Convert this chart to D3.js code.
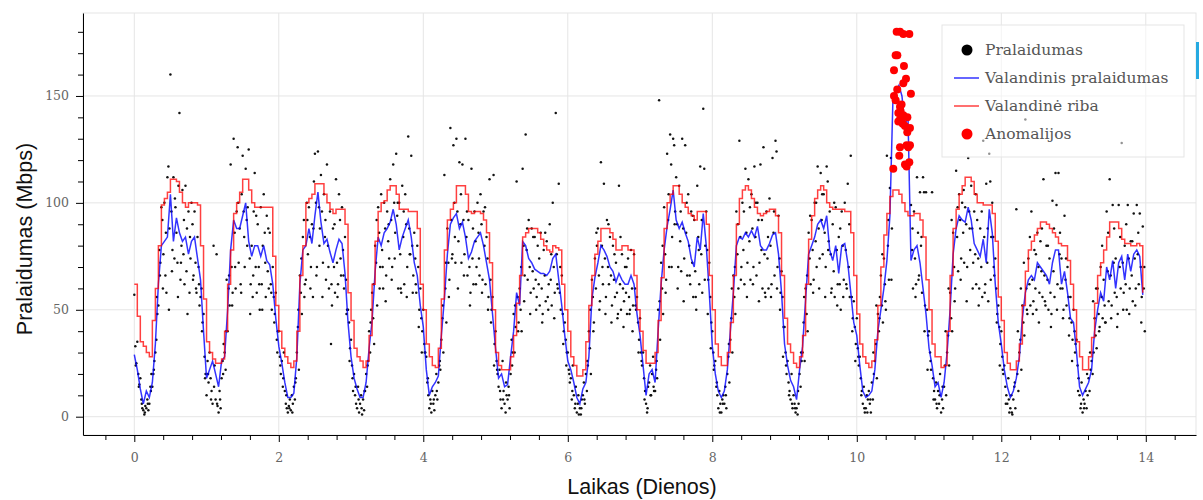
<!DOCTYPE html>
<html>
<head>
<meta charset="utf-8">
<script src="https://cdn.jsdelivr.net/npm/d3@7"></script>
<style>
  body { margin: 0; background: #fff; }
  svg { display: block; }
</style>
</head>
<body>
<div id="container"></div>
<script>
/* CONSTANTS AND GLOBALS */
const width = 1203;
const height = 500;
const plot = { left: 83, right: 1196, top: 13, bottom: 435 };

/* DATA */
// hourly mean throughput, one row per day (24 hours)
const hourlyThroughput = [
  [29,22,13,6,12,9,16,34,62,80,82,84,104,82,93,86,82,84,76,82,84,74,64,40],
  [18,22,26,20,14,26,28,50,78,92,88,88,94,100,82,75,80,80,75,80,73,71,62,46],
  [33,25,16,9,9,11,28,62,78,80,88,81,94,105,91,81,83,77,72,78,83,81,67,44],
  [28,18,13,9,9,16,32,45,68,84,80,86,88,91,97,90,78,84,88,92,84,72,66,52],
  [42,22,10,14,16,19,38,55,76,90,93,95,88,91,84,74,77,82,84,86,80,72,64,48],
  [32,18,20,14,15,28,40,58,52,82,80,74,72,69,68,67,67,66,68,74,76,64,52,38],
  [26,22,16,9,6,13,16,28,55,65,72,80,78,75,70,68,63,67,64,62,62,66,62,48],
  [38,24,10,20,22,16,40,62,78,89,97,106,92,88,91,86,82,74,70,84,78,95,80,58],
  [33,20,12,9,12,22,40,58,80,84,83,86,84,87,84,89,80,78,78,81,85,86,76,58],
  [34,24,17,14,8,22,33,55,76,80,84,90,92,88,94,78,73,80,67,80,81,72,58,44],
  [38,24,12,9,10,12,22,40,50,60,73,94,148,152,155,150,136,141,73,78,80,72,60,48],
  [32,24,14,16,9,16,30,50,76,88,94,92,91,98,92,81,78,75,83,72,97,86,62,44],
  [34,22,14,9,12,18,28,46,58,64,66,64,72,70,68,66,62,72,78,78,62,68,58,46],
  [44,30,14,10,13,16,22,40,50,58,54,70,64,73,60,72,75,64,76,68,76,78,75,57]
];

// hourly limit (step line), one row per day
const hourlyLimit = [
  [62,47,35,33,30,28,45,60,80,99,102,105,111,111,110,105,100,98,100,100,100,99,80,55],
  [35,30,27,25,25,27,40,62,78,95,100,105,111,111,106,100,98,98,98,98,98,98,75,52],
  [40,32,28,25,23,26,40,66,80,100,102,104,109,109,109,104,100,97,95,97,97,97,90,58],
  [45,32,28,26,23,26,38,62,82,96,100,101,106,108,108,104,97,97,97,96,96,96,88,62],
  [50,34,28,24,23,32,55,78,92,97,100,108,108,108,104,96,95,96,96,95,92,86,72,50],
  [30,24,22,22,22,28,38,53,66,84,86,88,88,88,86,83,80,78,77,80,79,78,62,50],
  [40,28,24,19,19,22,35,52,66,76,82,88,88,88,86,83,78,78,80,80,78,78,66,50],
  [40,31,25,25,25,30,45,65,88,100,104,108,108,104,100,98,95,94,92,96,96,96,90,66],
  [50,34,28,24,24,30,44,66,90,102,106,108,106,102,98,95,94,95,96,97,97,94,86,66],
  [46,34,30,25,23,28,38,62,83,94,102,106,108,106,100,98,97,97,97,97,96,96,86,66],
  [48,34,28,25,23,26,36,52,70,85,95,103,106,106,104,100,96,94,94,95,95,92,84,64],
  [50,34,28,28,23,24,40,66,88,97,104,108,112,112,110,104,100,100,99,99,99,95,82,56],
  [45,30,25,22,22,26,34,52,68,78,82,85,88,91,91,90,88,86,84,81,80,80,73,62],
  [50,35,28,22,22,28,37,53,66,72,78,84,91,91,91,88,83,81,81,80,80,81,80,58]
];

// raw throughput samples, 20 minutes apart (72 per day); null where the anomaly replaces them
const throughput = [
  [57,33,25, 35,20,15, 18,8,4, 3,1,5, 4,8,3, 6,14,20, 14,20,26, 30,36,48, 52,78,72, 98,92,76, 100,66,58, 112,117,88, 160,96,78, 112,74,98, 86,72,108, 142,64,80, 106,76,62, 108,68,48, 96,58,74, 100,90,66, 96,72,58, 84,70,52, 56,60,44, 48,28,20],
  [10,26,16, 30,18,12, 6,80,24, 8,76,5, 2,12,4, 18,26,34, 30,22,64, 40,60,52, 118,70,58, 130,86,60, 96,126,72, 88,62,104, 122,96,70, 116,92,98, 125,74,62, 80,56,96, 114,70,58, 90,70,50, 98,62,80, 104,86,56, 94,68,60, 86,62,50, 70,56,48, 58,36,40],
  [40,28,20, 26,14,30, 12,6,4, 2,5,8, 3,10,6, 14,8,18, 30,42,22, 66,58,48, 84,92,62, 64,100,76, 98,84,70, 90,56,110, 123,100,70, 124,98,88, 113,96,72, 104,84,64, 118,80,60, 96,34,52, 88,70,58, 111,72,62, 104,92,66, 98,78,60, 84,64,50, 50,44,32],
  [36,24,12, 20,10,6, 4,14,2, 6,10,1, 8,3,12, 20,14,26, 40,30,50, 58,46,34, 80,72,52, 98,86,70, 104,78,60, 100,88,66, 96,82,74, 111,92,70, 118,100,86, 123,94,60, 100,76,58, 108,84,62, 104,90,70, 131,88,76, 122,80,66, 86,74,58, 80,70,50, 60,46,40],
  [50,34,30, 28,16,10, 4,8,2, 12,6,3, 10,20,8, 16,24,22, 36,46,30, 113,60,44, 88,72,64, 135,92,76, 127,100,72, 130,96,82, 119,90,72, 118,92,76, 130,84,66, 92,70,58, 116,74,62, 96,82,70, 100,86,66, 104,90,64, 96,80,62, 84,74,56, 111,64,50, 56,113,34],
  [40,26,20, 14,22,8, 4,26,12, 6,2,10, 8,14,4, 20,36,30, 48,30,42, 110,56,44, 60,50,40, 116,80,66, 132,78,64, 92,70,58, 88,68,60, 84,64,56, 80,62,52, 86,60,48, 78,66,54, 82,56,62, 90,64,52, 100,70,58, 142,76,60, 109,58,50, 66,48,40, 44,36,30],
  [30,22,16, 18,8,24, 10,4,14, 2,6,1, 4,1,8, 10,16,6, 20,12,24, 40,32,20, 64,56,44, 74,60,80, 88,66,54, 119,80,62, 109,74,56, 92,70,62, 84,66,52, 80,64,56, 72,58,48, 108,62,50, 76,60,54, 70,58,48, 74,56,50, 78,60,52, 76,60,50, 56,44,36],
  [46,30,24, 30,18,12, 6,2,14, 16,24,10, 20,28,12, 12,22,18, 50,148,36, 72,60,48, 98,76,64, 123,92,70, 132,118,84, 130,127,96, 112,90,70, 108,82,68, 130,88,74, 127,86,66, 104,80,62, 96,72,56, 92,68,50, 108,84,62, 117,76,58, 144,116,80, 96,78,64, 72,56,44],
  [40,30,24, 26,14,10, 4,12,6, 2,8,10, 6,14,4, 20,28,16, 36,46,30, 66,56,48, 96,76,60, 129,84,70, 100,78,62, 116,86,72, 111,82,64, 104,88,70, 117,84,66, 100,92,72, 118,78,60, 126,76,56, 96,74,60, 102,80,62, 121,86,66, 129,124,70, 94,74,58, 68,56,42],
  [42,30,20, 26,16,12, 8,20,4, 10,6,2, 4,1,6, 20,14,26, 30,44,26, 60,48,40, 86,74,62, 92,78,64, 100,82,70, 117,88,74, 114,92,76, 104,86,70, 117,110,82, 96,76,60, 90,68,56, 98,78,62, 84,62,50, 96,80,64, 100,78,60, 109,70,56, 122,56,46, 54,42,34],
  [46,32,24, 28,18,12, 6,14,2, 4,10,8, 12,6,2, 16,8,20, 26,34,18, 48,40,56, 66,52,44, 74,62,50, 122,80,64, 107,121,88, null,null,null, null,null,null, null,null,null, null,null,null, null,null,null, null,null,null, 99,78,60, 96,74,62, 112,86,66, 105,80,58, 112,105,52, 105,50,38],
  [40,30,22, 105,18,12, 8,16,4, 12,6,20, 2,8,4, 14,24,10, 30,38,24, 58,46,40, 86,70,60, 115,84,68, 104,92,74, 100,86,72, 98,90,70, 121,96,78, 108,88,72, 96,76,62, 92,74,60, 88,70,56, 129,84,62, 109,72,54, 123,110,84, 100,84,66, 74,60,48, 52,42,34],
  [40,28,20, 24,14,10, 6,18,2, 4,10,1, 8,14,4, 97,20,12, 30,36,22, 52,44,38, 139,60,48, 74,62,52, 96,64,54, 78,60,50, 86,70,58, 82,68,56, 111,66,52, 80,64,50, 74,58,48, 101,68,56, 114,99,62, 114,76,60, 74,60,50, 94,64,52, 70,56,46, 56,44,36],
  [50,40,34, 36,24,18, 10,4,16, 2,8,6, 12,4,10, 18,12,22, 26,20,30, 46,38,32, 60,48,42, 70,56,46, 64,52,44, 96,68,54, 111,66,52, 99,72,58, 74,56,48, 99,70,60, 128,72,58, 80,62,50, 99,74,60, 82,66,54, 95,74,60, 99,76,62, 95,70,56, 89,60,40]
];

// extra samples taken at half past each hour (24 per day)
const throughputHalfHour = [
  [24,14,6,2,6,12,22,56,66,60,86,50,68,102,56,72,92,88,84,64,60,62,40,18],
  [20,8,14,6,8,20,40,66,52,70,100,58,84,80,48,66,94,62,50,72,88,58,44,30],
  [24,18,10,4,2,16,50,74,56,92,60,88,66,80,56,92,70,62,90,56,74,66,48,26],
  [18,14,8,4,12,24,44,62,92,60,70,54,90,64,74,100,60,96,56,76,58,62,42,30],
  [30,18,6,8,12,26,52,72,56,74,84,60,104,66,96,52,88,62,74,58,98,50,44,24],
  [22,12,8,16,10,24,52,40,70,54,88,48,84,50,74,44,86,50,76,46,62,70,34,24],
  [20,12,6,10,4,8,26,50,40,86,50,70,48,90,44,76,46,84,42,70,48,40,52,30],
  [26,8,4,10,14,26,54,80,58,104,70,90,60,96,54,100,66,94,56,78,92,64,48,32],
  [22,16,2,6,10,34,60,70,90,64,96,56,98,62,100,54,92,58,84,56,96,60,50,28],
  [24,10,6,4,12,30,56,66,94,58,100,60,104,56,78,58,100,52,88,56,62,90,40,26],
  [28,10,4,2,8,30,52,46,76,54,92,64,null,null,null,null,null,null,88,56,64,84,40,22],
  [26,8,6,10,14,40,60,92,54,98,64,106,54,88,60,104,52,96,58,88,64,70,44,24],
  [22,6,8,2,16,40,60,72,50,84,48,76,44,88,54,80,42,88,50,86,46,74,38,26],
  [30,12,6,4,20,30,54,60,40,80,44,86,46,88,42,84,50,90,48,82,52,86,44,70]
];

// anomalies (day, Mbps)
const anomalyDay = [10.552,10.598,10.644,10.727,10.538,10.561,10.515,10.653,10.644,10.681,10.515,10.538,10.749,10.598,10.605,10.575,10.644,10.598,10.636,10.575,10.667,10.736,10.699,10.690,10.598,10.713,10.736,10.588,10.727,10.667,10.690,10.505,10.620,10.560,10.700];
const anomalyValue = [180,180,179,179,169,169,162,164,156,158,150,148,151,145,143,142,141,139,137,138,136,135,133,127,126,126,127,122,119,118,117,116,146,153,140];

const xTicks = [0,2,4,6,8,10,12,14];
const yTicks = [0,50,100,150];
const legendLabels = ["Pralaidumas", "Valandinis pralaidumas", "Valandinė riba", "Anomalijos"];

/* SCALES */
const xScale = d3.scaleLinear()
  .domain([-0.71, 14.695])
  .range([plot.left, plot.right]);

const yScale = d3.scaleLinear()
  .domain([-8.56, 188.8])
  .range([plot.bottom, plot.top]);

const hourlyPoints = rows => rows.flatMap((day, d) => day.map((v, h) => ({ x: d + h / 24, v })));
const bluePoints = hourlyPoints(hourlyThroughput);
const redPoints = hourlyPoints(hourlyLimit);
const dotPoints = throughput
  .flatMap((day, d) => day.map((v, i) => ({ x: d + i / 72, v })))
  .concat(throughputHalfHour.flatMap((day, d) => day.map((v, h) => ({ x: d + (h + 0.5) / 24, v }))))
  .filter(p => p.v !== null);
const anomalies = anomalyDay.map((x, i) => ({ x, v: anomalyValue[i] }));

/* SVG */
const svg = d3.select("#container")
  .append("svg")
  .attr("width", width)
  .attr("height", height);

svg.append("defs").append("clipPath")
  .attr("id", "plot-clip")
  .append("rect")
  .attr("x", plot.left)
  .attr("y", plot.top)
  .attr("width", plot.right - plot.left)
  .attr("height", plot.bottom - plot.top);

// grid
svg.append("g")
  .selectAll("line.vgrid")
  .data(xTicks)
  .join("line")
  .attr("x1", d => xScale(d)).attr("x2", d => xScale(d))
  .attr("y1", plot.top).attr("y2", plot.bottom)
  .attr("stroke", "#e5e5e5");

svg.append("g")
  .selectAll("line.hgrid")
  .data(yTicks)
  .join("line")
  .attr("x1", plot.left).attr("x2", plot.right)
  .attr("y1", d => yScale(d)).attr("y2", d => yScale(d))
  .attr("stroke", "#e5e5e5");

// outline
svg.append("rect")
  .attr("x", plot.left).attr("y", plot.top)
  .attr("width", plot.right - plot.left)
  .attr("height", plot.bottom - plot.top)
  .attr("fill", "none")
  .attr("stroke", "#e5e5e5");

const marks = svg.append("g").attr("clip-path", "url(#plot-clip)");

// raw samples
marks.selectAll("circle.dot")
  .data(dotPoints)
  .join("circle")
  .attr("class", "dot")
  .attr("cx", d => xScale(d.x))
  .attr("cy", d => yScale(d.v))
  .attr("r", 1.25)
  .attr("fill", "#111");

// hourly throughput
marks.append("path")
  .datum(bluePoints)
  .attr("fill", "none")
  .attr("stroke", "blue")
  .attr("stroke-opacity", 0.8)
  .attr("stroke-width", 1.5)
  .attr("d", d3.line().x(d => xScale(d.x)).y(d => yScale(d.v)));

// hourly limit
marks.append("path")
  .datum(redPoints)
  .attr("fill", "none")
  .attr("stroke", "red")
  .attr("stroke-opacity", 0.75)
  .attr("stroke-width", 1.5)
  .attr("d", d3.line().curve(d3.curveStepAfter).x(d => xScale(d.x)).y(d => yScale(d.v)));

// anomalies
marks.selectAll("circle.anomaly")
  .data(anomalies)
  .join("circle")
  .attr("class", "anomaly")
  .attr("cx", d => xScale(d.x))
  .attr("cy", d => yScale(d.v))
  .attr("r", 4)
  .attr("fill", "red");

/* AXES */
const tickFont = g => g.selectAll("text")
  .attr("font-family", "'DejaVu Serif', serif")
  .attr("font-size", "12.5px")
  .attr("fill", "#666");

const xMinor = d3.range(-0.4, 14.5, 0.4).filter(v => Math.abs(v / 2 - Math.round(v / 2)) > 0.01);
const yMinor = d3.range(10, 189, 10).filter(v => v % 50 !== 0);

svg.append("g")
  .attr("transform", `translate(0,${plot.bottom})`)
  .call(d3.axisBottom(xScale).tickValues(xMinor).tickSize(5).tickFormat(""))
  .call(g => g.select(".domain").remove());

svg.append("g")
  .attr("transform", `translate(${plot.left},0)`)
  .call(d3.axisLeft(yScale).tickValues(yMinor).tickSize(5).tickFormat(""))
  .call(g => g.select(".domain").remove());

svg.append("g")
  .attr("transform", `translate(0,${plot.bottom})`)
  .call(d3.axisBottom(xScale).tickValues(xTicks).tickSize(7).tickSizeOuter(0).tickPadding(11).tickFormat(d3.format("d")))
  .call(tickFont);

svg.append("g")
  .attr("transform", `translate(${plot.left},0)`)
  .call(d3.axisLeft(yScale).tickValues(yTicks).tickSize(7).tickSizeOuter(0).tickPadding(7).tickFormat(d3.format("d")))
  .call(tickFont);

// axis labels
svg.append("text")
  .attr("x", 642)
  .attr("y", 494)
  .attr("text-anchor", "middle")
  .attr("font-family", "'Liberation Sans', Arial, sans-serif")
  .attr("font-size", "21.5px")
  .attr("fill", "#111")
  .text("Laikas (Dienos)");

svg.append("text")
  .attr("transform", "translate(31.5,239) rotate(-90)")
  .attr("text-anchor", "middle")
  .attr("font-family", "'Liberation Sans', Arial, sans-serif")
  .attr("font-size", "21.5px")
  .attr("fill", "#111")
  .text("Pralaidumas (Mbps)");

/* LEGEND */
const legend = svg.append("g");
legend.append("rect")
  .attr("x", 942).attr("y", 25)
  .attr("width", 242).attr("height", 132)
  .attr("fill", "#fff")
  .attr("fill-opacity", 0.55)
  .attr("stroke", "#e5e5e5");

const rowY = i => 50 + i * 28;

legend.append("circle").attr("cx", 967).attr("cy", rowY(0)).attr("r", 5.5).attr("fill", "#000");
legend.append("line")
  .attr("x1", 954).attr("x2", 979).attr("y1", rowY(1)).attr("y2", rowY(1))
  .attr("stroke", "blue").attr("stroke-opacity", 0.8).attr("stroke-width", 1.5);
legend.append("line")
  .attr("x1", 954).attr("x2", 979).attr("y1", rowY(2)).attr("y2", rowY(2))
  .attr("stroke", "red").attr("stroke-opacity", 0.75).attr("stroke-width", 1.5);
legend.append("circle").attr("cx", 967).attr("cy", rowY(3)).attr("r", 5.5).attr("fill", "red");

legend.selectAll("text")
  .data(legendLabels)
  .join("text")
  .attr("x", 985)
  .attr("y", (d, i) => rowY(i))
  .attr("dominant-baseline", "central")
  .attr("font-family", "'DejaVu Serif', serif")
  .attr("font-size", "15.5px")
  .attr("fill", "#555")
  .text(d => d);

// toolbar indicator at the right edge
svg.append("rect")
  .attr("x", 1196).attr("y", 42)
  .attr("width", 3).attr("height", 37)
  .attr("fill", "#26aae1");
</script>
</body>
</html>
